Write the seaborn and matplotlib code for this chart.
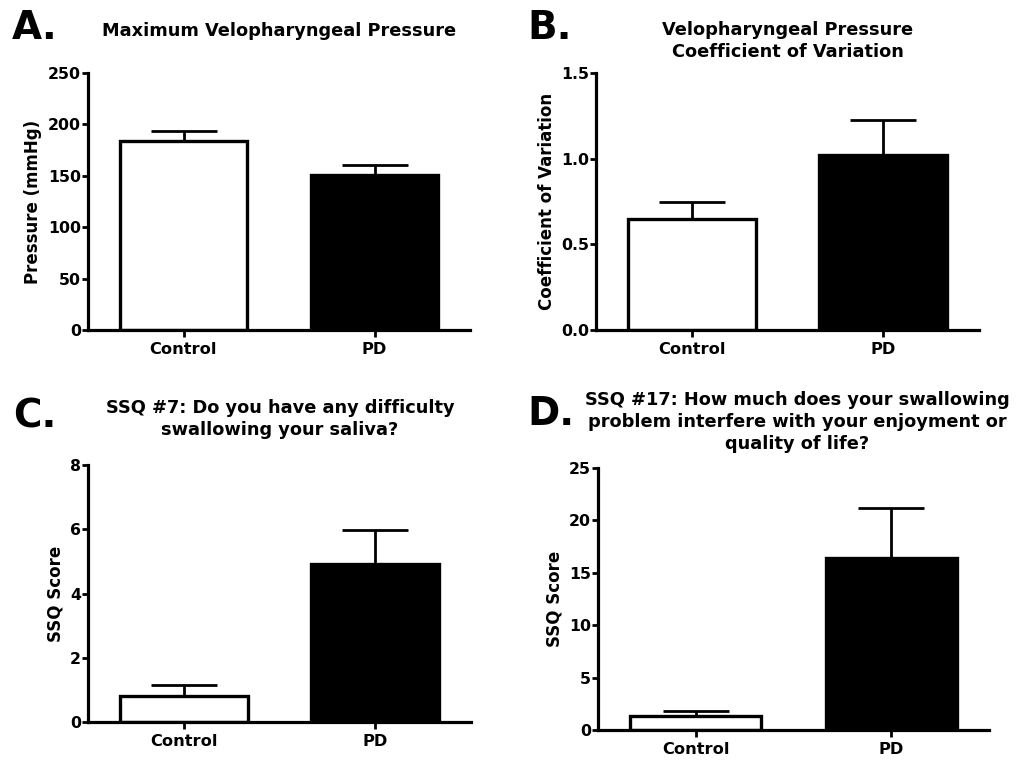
import matplotlib
matplotlib.use("Agg")
import matplotlib.pyplot as plt
import seaborn as sns
import numpy as np

groups = ["Control", "PD"]
bar_colors = ["white", "black"]

pressure_mean = [184, 151]
pressure_sem = [9.5, 9.5]

cv_mean = [0.645, 1.02]
cv_sem = [0.105, 0.205]

ssq7_mean = [0.80, 4.92]
ssq7_sem = [0.36, 1.07]

ssq17_mean = [1.37, 16.45]
ssq17_sem = [0.45, 4.7]

sns.set_style("ticks")
plt.rcParams["font.family"] = ["DejaVu Sans"]
plt.rcParams["font.weight"] = "bold"
for key in ["text.color", "axes.labelcolor", "xtick.color", "ytick.color", "axes.edgecolor"]:
    plt.rcParams[key] = "black"

W, H = 1022, 760
fig = plt.figure(figsize=(W / 100, H / 100), dpi=100)


def px_axes(left, top, right, bottom):
    return fig.add_axes([left / W, 1 - bottom / H, (right - left) / W, (bottom - top) / H])


def panel(ax, means, sems, ylim, yticks, ylabel, fmt=None):
    sns.barplot(x=groups, y=means, hue=groups, palette=bar_colors, edgecolor="black",
                linewidth=2.4, width=0.67, errorbar=None, legend=False, ax=ax)
    ax.errorbar(x=[0, 1], y=means, yerr=[np.zeros(2), sems], fmt="none", ecolor="black",
                elinewidth=2.0, capsize=24, capthick=2.0, zorder=3)
    ax.set_xlim(-0.5, 1.5)
    ax.set_ylim(*ylim)
    ax.set_yticks(yticks)
    if fmt:
        ax.set_yticklabels([fmt.format(t) for t in yticks])
    ax.set_ylabel(ylabel, fontsize=12, fontweight="bold", labelpad=4)
    ax.set_xlabel("")
    sns.despine(ax=ax)
    for s in ["left", "bottom"]:
        ax.spines[s].set_linewidth(2.3)
        ax.spines[s].set_color("black")
    ax.tick_params(axis="y", length=4, width=2, labelsize=11.3, pad=1, colors="black")
    ax.tick_params(axis="x", length=5, width=2, labelsize=11.7, pad=4, colors="black")
    for lab in ax.get_xticklabels() + ax.get_yticklabels():
        lab.set_fontweight("bold")


axA = px_axes(88, 73, 470, 330)
panel(axA, pressure_mean, pressure_sem, (0, 250), [0, 50, 100, 150, 200, 250], "Pressure (mmHg)")

axB = px_axes(596, 73, 979, 330)
panel(axB, cv_mean, cv_sem, (0, 1.5), [0, 0.5, 1.0, 1.5], "Coefficient of Variation", fmt="{:.1f}")

axC = px_axes(88, 465, 471, 722)
panel(axC, ssq7_mean, ssq7_sem, (0, 8), [0, 2, 4, 6, 8], "SSQ Score")

axD = px_axes(598, 468, 989, 730)
panel(axD, ssq17_mean, ssq17_sem, (0, 25), [0, 5, 10, 15, 20, 25], "SSQ Score")


def ftext(x, y, s, **kw):
    fig.text(x / W, 1 - y / H, s, color="black", **kw)


title_kw = dict(fontsize=12.8, fontweight="bold", ha="center", va="top", linespacing=1.3)
ftext(279, 22, "Maximum Velopharyngeal Pressure", **title_kw)
ftext(788, 21, "Velopharyngeal Pressure\nCoefficient of Variation", **title_kw)
ftext(280, 399, "SSQ #7: Do you have any difficulty\nswallowing your saliva?", **title_kw)
ftext(797, 391, "SSQ #17: How much does your swallowing\nproblem interfere with your enjoyment or\nquality of life?", **title_kw)

letter_kw = dict(fontsize=28, fontweight="bold", ha="left", va="baseline")
ftext(12, 39, "A.", **letter_kw)
ftext(527, 39, "B.", **letter_kw)
ftext(13, 428, "C.", **letter_kw)
ftext(527, 425, "D.", **letter_kw)

fig.savefig("out.png", dpi=100, facecolor="white")
